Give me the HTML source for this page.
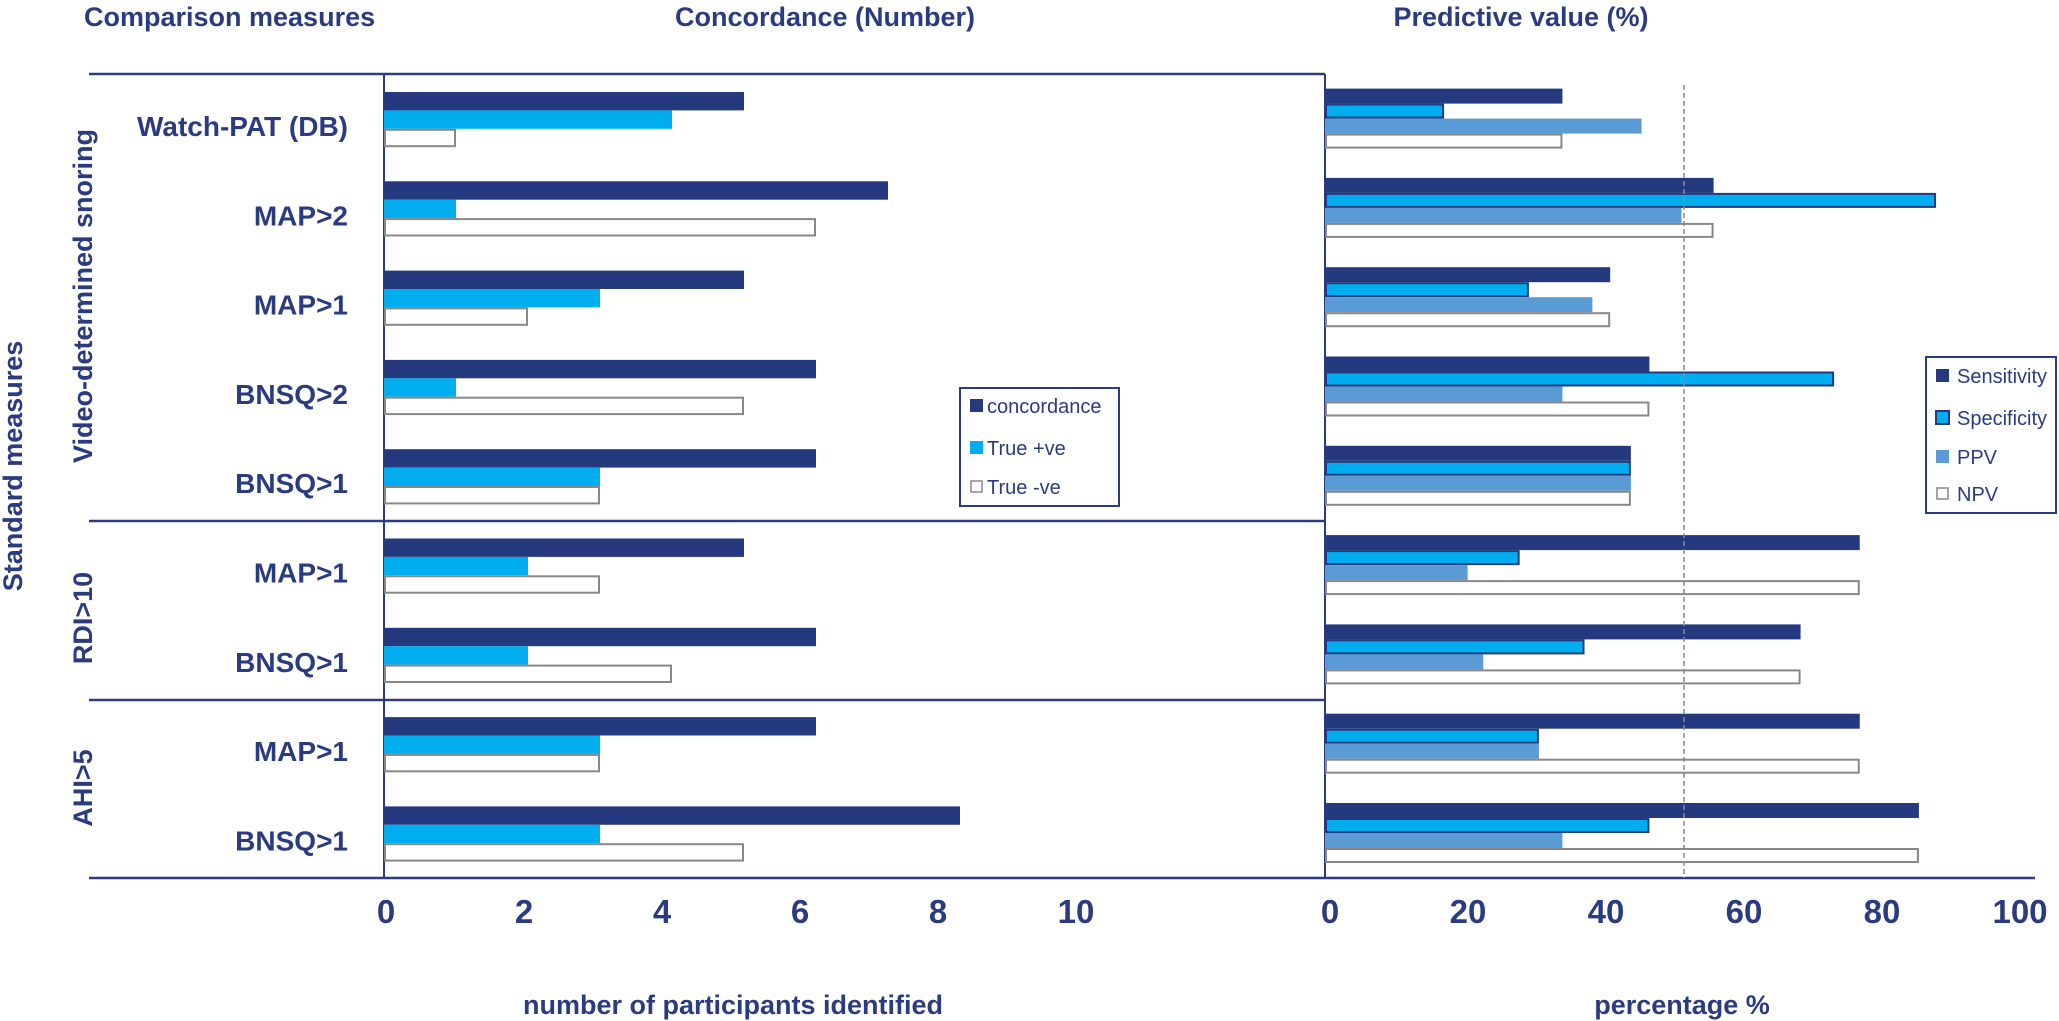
<!DOCTYPE html>
<html><head><meta charset="utf-8"><style>
body{margin:0;background:#fff;}
svg{display:block;font-family:"Liberation Sans","DejaVu Sans",sans-serif;}
.b{font-weight:bold;fill:#2b3b80;}
.lg{fill:#2b3b80;font-size:20px;}
</style></head><body>
<svg id="c" width="2059" height="1021" viewBox="0 0 2059 1021" xmlns="http://www.w3.org/2000/svg">
<g id="frame">
<line x1="89" y1="74" x2="1325" y2="74" stroke="#2b3b80" stroke-width="2.5"/>
<line x1="89" y1="521" x2="1325" y2="521" stroke="#2b3b80" stroke-width="2.5"/>
<line x1="89" y1="700" x2="1325" y2="700" stroke="#2b3b80" stroke-width="2.5"/>
<line x1="89" y1="878" x2="2035" y2="878" stroke="#2b3b80" stroke-width="2.5"/>
<line x1="384" y1="74" x2="384" y2="878" stroke="#2b3b80" stroke-width="2"/>
<line x1="1325" y1="74" x2="1325" y2="878" stroke="#2b3b80" stroke-width="2"/>
</g>
<text class="b" x="84" y="26" font-size="27">Comparison measures</text>
<text class="b" x="825" y="26" font-size="27" text-anchor="middle">Concordance (Number)</text>
<text class="b" x="1521" y="26" font-size="27" text-anchor="middle">Predictive value (%)</text>
<text class="b" x="733" y="1014" font-size="27" text-anchor="middle">number of participants identified</text>
<text class="b" x="1682" y="1014" font-size="27" text-anchor="middle">percentage %</text>
<text class="b" font-size="27" transform="translate(22,466) rotate(-90)" text-anchor="middle">Standard measures</text>
<text class="b" font-size="27" transform="translate(92,296) rotate(-90)" text-anchor="middle">Video-determined snoring</text>
<text class="b" font-size="27" transform="translate(92,618) rotate(-90)" text-anchor="middle">RDI&gt;10</text>
<text class="b" font-size="27" transform="translate(92,788) rotate(-90)" text-anchor="middle">AHI&gt;5</text>
<g id="rows"></g>
<g id="leftBars"></g>
<g id="rightBars"></g>
<line x1="1684" y1="85" x2="1684" y2="878" stroke="#888" stroke-width="1.5" stroke-dasharray="5,3"/>
<g id="ticks"></g>
<g>
<rect x="960" y="388" width="159" height="118" fill="#fff" stroke="#2b3b80" stroke-width="2"/>
<rect x="970" y="399" width="13" height="13" fill="#253a7e"/><text class="lg" x="987" y="413">concordance</text>
<rect x="970" y="441" width="13" height="13" fill="#00aeef"/><text class="lg" x="987" y="455">True +ve</text>
<rect x="971" y="481" width="11" height="11" fill="#fff" stroke="#888" stroke-width="1.5"/><text class="lg" x="987" y="494">True -ve</text>
</g>
<g>
<rect x="1926" y="357" width="130" height="156" fill="#fff" stroke="#2b3b80" stroke-width="2"/>
<rect x="1936" y="369" width="13" height="13" fill="#253a7e"/><text class="lg" x="1957" y="383">Sensitivity</text>
<rect x="1936" y="411" width="13" height="13" fill="#00aeef" stroke="#253a7e" stroke-width="2"/><text class="lg" x="1957" y="425">Specificity</text>
<rect x="1936" y="450" width="13" height="13" fill="#5b9bd5"/><text class="lg" x="1957" y="464">PPV</text>
<rect x="1937" y="488" width="11" height="11" fill="#fff" stroke="#888" stroke-width="1.5"/><text class="lg" x="1957" y="501">NPV</text>
</g>
</svg>
<script>
const categories=["Watch-PAT (DB)","MAP>2","MAP>1","BNSQ>2","BNSQ>1","MAP>1","BNSQ>1","MAP>1","BNSQ>1"];
const concordance=[5,7,5,6,6,5,6,6,8];
const truePos=[4,1,3,1,3,2,2,3,3];
const trueNeg=[1,6,2,5,3,3,4,3,5];
const sensitivity=[33.3,54.5,40,45.5,42.9,75,66.7,75,83.3];
const specificity=[16.7,85.7,28.6,71.4,42.9,27.3,36.4,30,45.5];
const ppv=[44.4,50,37.5,33.3,42.9,20,22.2,30,33.3];
const npv=[33.3,54.5,40,45.5,42.9,75,66.7,75,83.3];
const leftTicks=[0,2,4,6,8,10];
const rightTicks=[0,20,40,60,80,100];
const NS="http://www.w3.org/2000/svg";
const xL=v=>384+v*72;
const xR=v=>1325+v*7.13;
const rowY=i=>92+i*89.3;
function mk(tag,attrs,parent){const e=document.createElementNS(NS,tag);for(const k in attrs)e.setAttribute(k,attrs[k]);parent.appendChild(e);return e;}
const rows=document.getElementById('rows'),lb=document.getElementById('leftBars'),rb=document.getElementById('rightBars'),tk=document.getElementById('ticks');
const lser=[[concordance,'#253a7e','none','concordance'],[truePos,'#00aeef','none','true-pos'],[trueNeg,'#fff','#888','true-neg']];
const rser=[[sensitivity,'#253a7e','none','sensitivity'],[specificity,'#00aeef','#253a7e','specificity'],[ppv,'#5b9bd5','none','ppv'],[npv,'#fff','#888','npv']];
categories.forEach((c,i)=>{
  const t=mk('text',{x:348,y:rowY(i)+44,'font-size':28,'text-anchor':'end',class:'b'},rows);t.textContent=c;
  
  
  lser.forEach((s,j)=>{
    const h=18.4,y=rowY(i)+j*h,w=xL(s[0][i])-xL(0);
    const r=mk('rect',{x:xL(0)+(s[2]!=='none'?1:0),y:y+(s[2]!=='none'?1:0),width:Math.max(0,w-(s[2]!=='none'?2:0)),height:h-(s[2]!=='none'?2:0),fill:s[1],stroke:s[2],'stroke-width':2},lb);
    
    
  });
  rser.forEach((s,j)=>{
    const h=15,y=rowY(i)-3.4+j*h,w=xR(s[0][i])-xR(0);
    const st=s[2]!=='none';
    const r=mk('rect',{x:xR(0)+(st?1:0),y:y+(st?1:0),width:Math.max(0,w-(st?2:0)),height:h-(st?2:0),fill:s[1],stroke:s[2],'stroke-width':2},rb);
    
    
  });
});
leftTicks.forEach(v=>{const t=mk('text',{x:386+v*69,y:923,'font-size':33,'text-anchor':'middle',class:'b'},tk);t.textContent=v;
  
  });
rightTicks.forEach(v=>{const t=mk('text',{x:1330+v*6.9,y:923,'font-size':33,'text-anchor':'middle',class:'b'},tk);t.textContent=v;
  
  });
</script>
</body></html>
